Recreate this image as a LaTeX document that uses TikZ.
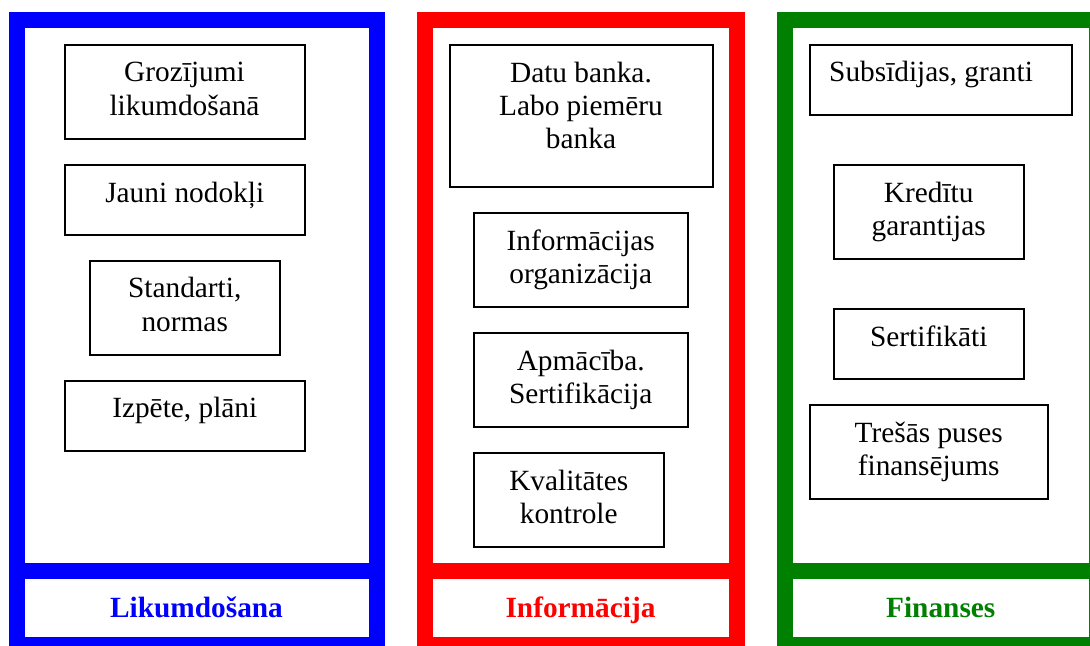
\documentclass[tikz,border=0pt]{standalone}
\usepackage{fontspec}
\setmainfont{Liberation Serif}
\usetikzlibrary{fit,calc}
\definecolor{fgreen}{RGB}{0,128,0}
\begin{document}
\begin{tikzpicture}[x=0.75pt,y=-0.75pt,
  frame/.style={line width=12pt},
  box/.style={draw=black,line width=1.5pt,inner sep=0pt},
  txt/.style={anchor=north,inner sep=0pt,align=center,font=\fontsize{22}{25}\selectfont},
  lab/.style={anchor=base,inner sep=0pt,font=\fontsize{22}{25}\selectfont\bfseries}]
\useasboundingbox (0,0) rectangle (1090,646);
% frames
\draw[frame,blue] (16.5,20) rectangle (376.5,645);
\draw[frame,blue] (16.5,571) -- (376.5,571);
\draw[frame,red] (424.5,20) rectangle (736.5,645);
\draw[frame,red] (424.5,571) -- (736.5,571);
\draw[frame,fgreen] (784.5,20) rectangle (1097,645);
\draw[frame,fgreen] (784.5,571) -- (1097,571);
% blue boxes
\node[box,fit={(64.5,44.5) (304.5,139)}] (b1) {};
\node[box,fit={(65,165) (304.5,235)}] (b2) {};
\node[box,fit={(89.5,260.5) (280,355)}] (b3) {};
\node[box,fit={(65,380.5) (304.5,451)}] (b4) {};
% red boxes
\node[box,fit={(449.5,45) (712.5,187)}] (r1) {};
\node[box,fit={(473.5,213) (688,307)}] (r2) {};
\node[box,fit={(473.5,333) (688,427)}] (r3) {};
\node[box,fit={(473.5,453) (664,547)}] (r4) {};
% green boxes
\node[box,fit={(809.5,44.5) (1072,115)}] (g1) {};
\node[box,fit={(833.5,165) (1024,259)}] (g2) {};
\node[box,fit={(833.5,309) (1024,379)}] (g3) {};
\node[box,fit={(809.5,405) (1048,499)}] (g4) {};
% texts
\node[txt] (tb1) at ($(b1.north)+(0,14.7)$) {\strut Grozījumi\\likumdošanā};
\node[txt] (tb2) at ($(b2.north)+(0,14.7)$) {\strut Jauni nodokļi};
\node[txt] (tb3) at ($(b3.north)+(0,14.7)$) {\strut Standarti,\\normas};
\node[txt] (tb4) at ($(b4.north)+(0,14.7)$) {\strut Izpēte, plāni};
\node[txt] (tr1) at ($(r1.north)+(0,14.7)$) {\strut Datu banka.\\Labo piemēru\\banka};
\node[txt] (tr2) at ($(r2.north)+(0,14.7)$) {\strut Informācijas\\organizācija};
\node[txt] (tr3) at ($(r3.north)+(0,14.7)$) {\strut Apmācība.\\Sertifikācija};
\node[txt] (tr4) at ($(r4.north)+(0,14.7)$) {\strut Kvalitātes\\kontrole};
\node[txt] (tg1) at ($(g1.north)+(-9.7,14.7)$) {\strut Subsīdijas, granti};
\node[txt] (tg2) at ($(g2.north)+(0,14.7)$) {\strut Kredītu\\garantijas};
\node[txt] (tg3) at ($(g3.north)+(0,14.7)$) {\strut Sertifikāti};
\node[txt] (tg4) at ($(g4.north)+(0,14.7)$) {\strut Trešās puses\\finansējums};
% labels
\node[lab,text=blue] (L1) at (196.5,617) {Likumdošana};
\node[lab,text=red] (L2) at (580.5,617) {Informācija};
\node[lab,text=fgreen] (L3) at (940.75,617) {Finanses};
\end{tikzpicture}
\end{document}
